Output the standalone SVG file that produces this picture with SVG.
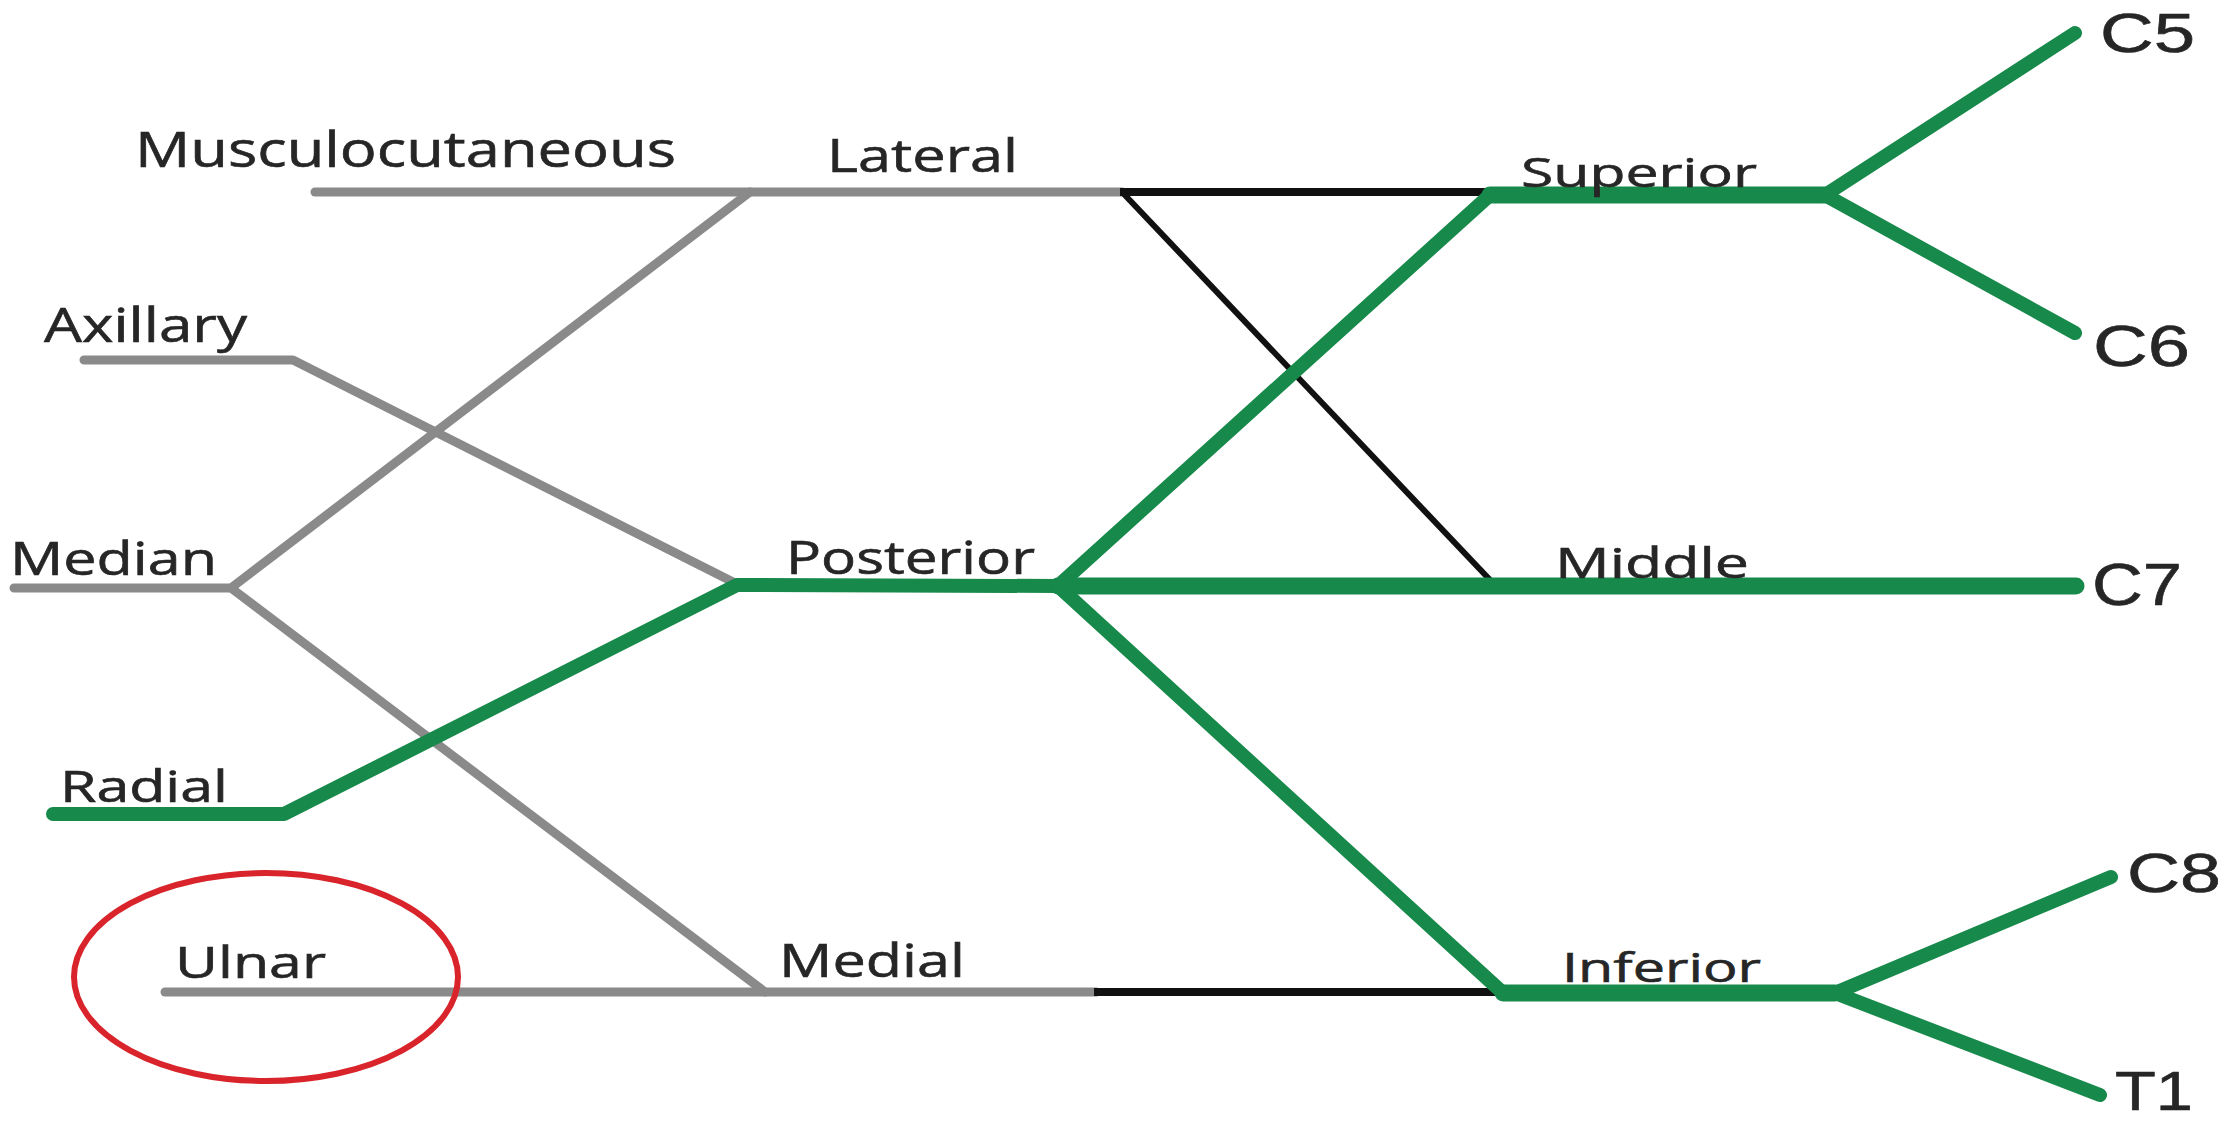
<svg xmlns="http://www.w3.org/2000/svg" width="2223" height="1124" viewBox="0 0 2223 1124">
  <style>
    .lbl { font-family: "Open Sans", "Liberation Sans", sans-serif; fill: #262626; stroke: #262626; stroke-width: 0.6; }
    .root { font-family: "Liberation Sans", "Open Sans", sans-serif; fill: #262626; stroke: #262626; stroke-width: 0.6; }
    .nerve { stroke: #8a8a8a; stroke-width: 9; fill: none; stroke-linecap: round; stroke-linejoin: round; }
    .link { stroke: #111111; stroke-width: 8; fill: none; }
    .thin { stroke: #111111; stroke-width: 6; fill: none; }
    .trunk { stroke: #17894a; stroke-width: 17; fill: none; stroke-linecap: round; stroke-linejoin: round; }
    .branch { stroke: #17894a; stroke-width: 14; fill: none; stroke-linecap: round; stroke-linejoin: round; }
    .mark { stroke: #d8242a; stroke-width: 6; fill: none; }
  </style>

  <rect width="2223" height="1124" fill="#ffffff"/>

  <!-- connectors: terminal nerves, cords, divisions, trunks, roots -->
  <g id="connectors">
    <!-- grey terminal nerves and cords -->
    <polyline class="nerve" points="315,192 750,192 1122,192"/>
    <polyline class="nerve" points="84,360 293,360 737,584"/>
    <polyline class="nerve" points="14,588 231,588 750,192"/>
    <line class="nerve" x1="231" y1="588" x2="765" y2="992"/>
    <line class="nerve" x1="165" y1="992" x2="1096" y2="992"/>

    <!-- black divisions -->
    <line class="link" x1="1120" y1="192" x2="1492" y2="192"/>
    <line class="thin" x1="1122" y1="192" x2="1492" y2="582"/>
    <line class="link" x1="1094" y1="992" x2="1505" y2="992"/>

    <!-- green pathway: radial -> posterior cord -> trunks -> roots -->
    <polyline class="branch" points="53,814 284,814 737,585 1058,586"/>
    <line class="trunk" x1="1058" y1="586" x2="2076" y2="586"/>
    <line class="branch" x1="1058" y1="586" x2="1490" y2="195"/>
    <line class="branch" x1="1058" y1="586" x2="1503" y2="993"/>
    <line class="trunk" x1="1490" y1="195" x2="1825" y2="195"/>
    <line class="branch" x1="1825" y1="195" x2="2075" y2="33"/>
    <line class="branch" x1="1825" y1="195" x2="2075" y2="333"/>
    <line class="trunk" x1="1503" y1="993" x2="1835" y2="993"/>
    <line class="branch" x1="1835" y1="993" x2="2111" y2="877"/>
    <line class="branch" x1="1835" y1="993" x2="2100" y2="1095"/>
  </g>

  <!-- terminal nerves -->
  <g id="musculocutaneous"><text class="lbl" x="135" y="167" font-size="49" textLength="541" lengthAdjust="spacingAndGlyphs">Musculocutaneous</text></g>
  <g id="axillary"><text class="lbl" x="44" y="342" font-size="47" textLength="203" lengthAdjust="spacingAndGlyphs">Axillary</text></g>
  <g id="median"><text class="lbl" x="10" y="575" font-size="45" textLength="207" lengthAdjust="spacingAndGlyphs">Median</text></g>
  <g id="radial"><text class="lbl" x="60" y="802" font-size="43" textLength="168" lengthAdjust="spacingAndGlyphs">Radial</text></g>
  <g id="ulnar">
    <ellipse class="mark" cx="266" cy="977" rx="192" ry="104"/>
    <text class="lbl" x="175" y="978" font-size="43" textLength="151" lengthAdjust="spacingAndGlyphs">Ulnar</text>
  </g>

  <!-- cords -->
  <g id="lateral"><text class="lbl" x="827" y="172" font-size="45" textLength="191" lengthAdjust="spacingAndGlyphs">Lateral</text></g>
  <g id="posterior"><text class="lbl" x="786" y="574" font-size="45" textLength="249" lengthAdjust="spacingAndGlyphs">Posterior</text></g>
  <g id="medial"><text class="lbl" x="779" y="977" font-size="46" textLength="186" lengthAdjust="spacingAndGlyphs">Medial</text></g>

  <!-- trunks -->
  <g id="superior"><text class="lbl" x="1521" y="187" font-size="41" textLength="236" lengthAdjust="spacingAndGlyphs">Superior</text></g>
  <g id="middle"><text class="lbl" x="1555" y="578" font-size="42" textLength="194" lengthAdjust="spacingAndGlyphs">Middle</text></g>
  <g id="inferior"><text class="lbl" x="1562" y="982" font-size="40" textLength="199" lengthAdjust="spacingAndGlyphs">Inferior</text></g>

  <!-- roots -->
  <g id="c5"><text class="root" x="2100" y="52" font-size="56" textLength="95" lengthAdjust="spacingAndGlyphs">C5</text></g>
  <g id="c6"><text class="root" x="2093" y="366" font-size="58" textLength="97" lengthAdjust="spacingAndGlyphs">C6</text></g>
  <g id="c7"><text class="root" x="2092" y="605" font-size="60" textLength="90" lengthAdjust="spacingAndGlyphs">C7</text></g>
  <g id="c8"><text class="root" x="2127" y="892" font-size="56" textLength="94" lengthAdjust="spacingAndGlyphs">C8</text></g>
  <g id="t1"><text class="root" x="2115" y="1110" font-size="56" textLength="78" lengthAdjust="spacingAndGlyphs">T1</text></g>
</svg>
